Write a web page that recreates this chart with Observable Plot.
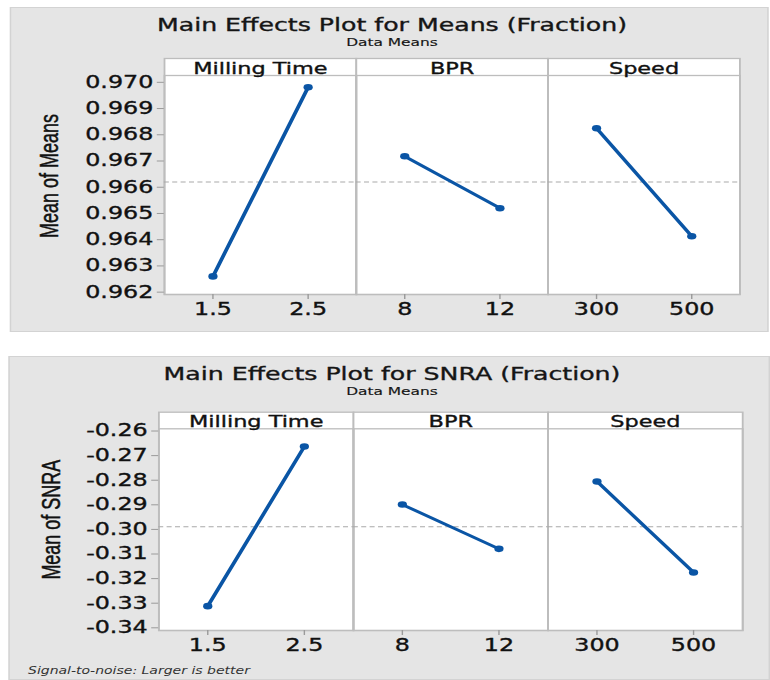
<!DOCTYPE html>
<html>
<head>
<meta charset="utf-8">
<script src="https://cdn.jsdelivr.net/npm/d3@7"></script>
<script src="https://cdn.jsdelivr.net/npm/@observablehq/plot@0.6"></script>
<style>
  html, body { margin: 0; padding: 0; background: #ffffff; }
  body { width: 770px; height: 680px; overflow: hidden; }
  #wrap { position: absolute; left: 0; top: 0; width: 550px; height: 680px;
          transform: scaleX(1.4); transform-origin: 0 0; font-family: "DejaVu Sans", sans-serif; }
  .panel { position: absolute; background: #e5e5e5; border: 1px solid #d3d3d3; box-sizing: border-box; }
  .title { position: absolute; left: 0; width: 560px; text-align: center; line-height: 1; color: #151515; white-space: nowrap; }
  .t1 { font-size: 18px; -webkit-text-stroke: 0.35px #151515; }
  .t2 { font-size: 11px; -webkit-text-stroke: 0.15px #151515; }
  .note { position: absolute; left: 20px; font-size: 10px; font-style: italic; line-height: 1; color: #333; white-space: nowrap; }
  .chart { position: absolute; left: 0; }
  .chart svg text { stroke: #111; stroke-width: 0.35px; }
</style>
</head>
<body>
<div id="wrap">
  <div class="panel" style="left:7px; top:7px; width:542px; height:325px;"></div>
  <div class="panel" style="left:6.4px; top:356px; width:544px; height:324px;"></div>
  <div class="title t1" style="top:15.8px;">Main Effects Plot for Means (Fraction)</div>
  <div class="title t2" style="top:37.2px;">Data Means</div>
  <div class="title t1" style="top:364.8px;">Main Effects Plot for SNRA (Fraction)</div>
  <div class="title t2" style="top:385.7px;">Data Means</div>
  <div class="note" style="top:665.5px;">Signal-to-noise: Larger is better</div>
  <div class="chart" id="c1" style="top:0px;"></div>
  <div class="chart" id="c2" style="top:340px;"></div>
</div>
<script>
// ---- data ----
const factors = ["Milling Time", "BPR", "Speed"];
const levelLabels = [["1.5", "2.5"], ["8", "12"], ["300", "500"]];
const meansOfMeans = [[0.96260, 0.96981], [0.96718, 0.96520], [0.96825, 0.96413]];
const meansOfSNRA = [[-0.3312, -0.2663], [-0.2899, -0.3079], [-0.2805, -0.3175]];
const ticksMeans = [0.962, 0.963, 0.964, 0.965, 0.966, 0.967, 0.968, 0.969, 0.970];
const ticksSNRA = [-0.34, -0.33, -0.32, -0.31, -0.30, -0.29, -0.28, -0.27, -0.26];
const yLabelMeans = "Mean of Means";
const yLabelSNRA = "Mean of SNRA";

const positions = ["low", "high"];
const blue = "#0a55a5";
const gridGray = "#bdbdbd";

function rowsFor(values) {
  return factors.flatMap((f, i) =>
    levelLabels[i].map((lv, j) => ({factor: f, pos: positions[j], level: lv, value: values[i][j]}))
  );
}

function panel({values, ticks, digits, yDomain, yLabel, marginTop, marginLeft, marginRight, height, stripH, labelDx, labelDy}) {
  const rows = rowsFor(values);
  const grand = d3.mean(rows, d => d.value);
  return Plot.plot({
    width: 550,
    height,
    marginTop,
    marginLeft,
    marginRight,
    marginBottom: 40,
    style: {background: "transparent", overflow: "visible", fontFamily: "DejaVu Sans, sans-serif", color: "#111"},
    fx: {domain: factors, padding: 0, axis: null},
    x: {type: "point", domain: positions, padding: 0.5, axis: null},
    y: {domain: yDomain, axis: null},
    marks: [
      Plot.frame({fill: "white", stroke: gridGray, strokeWidth: 1.3, insetTop: -stripH}),
      Plot.frame({stroke: gridGray, strokeWidth: 1.3}),
      Plot.ruleY([grand], {stroke: "#a9a9a9", strokeWidth: 1, strokeDasharray: "3.6,2.4"}),
      Plot.line(rows, {fx: "factor", x: "pos", y: "value", z: "factor", stroke: blue, strokeWidth: 2.8}),
      Plot.dot(rows, {fx: "factor", x: "pos", y: "value", r: 3.3, fill: blue, stroke: "none"}),
      Plot.axisY({ticks, tickFormat: d => d.toFixed(digits), fontSize: 17, tickSize: 5, tickPadding: 3, stroke: "#9a9a9a", label: null, anchor: "left"}),
      Plot.axisX({tickSize: 5, tickFormat: () => "", stroke: "#9a9a9a", label: null}),
      Plot.text(rows, {fx: "factor", x: "pos", text: "level", frameAnchor: "bottom", lineAnchor: "middle", dy: 15.5, fontSize: 17, fill: "#111"}),
      Plot.text(factors, {fx: d => d, text: d => d, frameAnchor: "top", lineAnchor: "middle", textAnchor: "middle", dy: -7, fontSize: 16, fill: "#111"}),
      Plot.text([yLabel], {fx: [factors[0]], text: d => d, frameAnchor: "left", textAnchor: "middle", lineAnchor: "middle", rotate: -90, dx: labelDx, dy: labelDy, fontSize: 18, fontFamily: "Liberation Sans, sans-serif", fill: "#111"})
    ]
  });
}

document.getElementById("c1").append(panel({
  values: meansOfMeans, ticks: ticksMeans, digits: 3,
  yDomain: [0.96191, 0.97026], yLabel: yLabelMeans,
  marginTop: 75, marginLeft: 116.4, marginRight: 21.4, height: 334, stripH: 17,
  labelDx: -82, labelDy: -9
}));

document.getElementById("c2").append(panel({
  values: meansOfSNRA, ticks: ticksSNRA, digits: 2,
  yDomain: [-0.3411, -0.2591], yLabel: yLabelSNRA,
  marginTop: 88.3, marginLeft: 112.1, marginRight: 20, height: 330, stripH: 16.6,
  labelDx: -76.4, labelDy: -10
}));
</script>
</body>
</html>
